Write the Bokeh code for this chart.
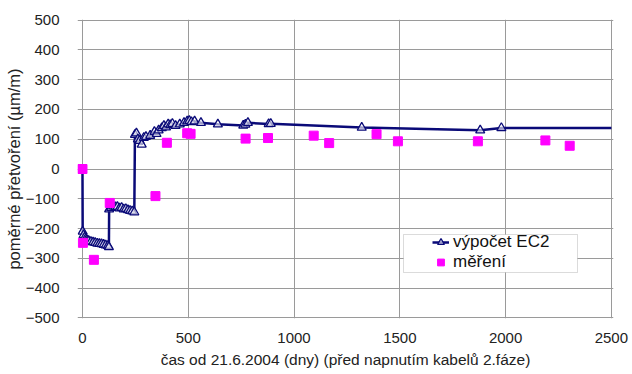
from bokeh.plotting import figure
from bokeh.models import ColumnDataSource, Range1d, FixedTicker, Legend, LegendItem, BoxAnnotation
from bokeh.embed import file_html
from bokeh.resources import INLINE

# Calculated strain (EC2 model), days since 21.6.2004
calc_day = [0, 1, 5, 10, 15, 20, 25, 30, 40, 50, 60, 70, 80, 90, 100, 110, 120, 125,
            126, 135, 145, 155, 165, 175, 185, 195, 205, 215, 225, 235, 245,
            248, 255, 262, 270, 280, 290, 300, 320, 340, 350, 360, 375, 385, 395,
            405, 415, 425, 440, 460, 480, 495, 505, 515, 530, 560, 640,
            760, 770, 782, 880, 890, 1320, 1880, 1980, 2500]
calc_val = [0, -210, -222, -230, -235, -238, -240, -242, -244, -246, -248, -250, -251, -252, -254, -256, -258, -262,
            -135, -130, -125, -128, -127, -132, -130, -135, -134, -138, -140, -142, -145,
            115, 120, 100, 95, 82, 105, 108, 112, 125, 118, 130, 138, 145, 140,
            150, 148, 152, 145, 150, 155, 160, 162, 158, 160, 155, 150,
            146, 149, 155, 151, 152, 139, 130, 138, 138]

# Measured strain
meas_day = [0, 2, 54, 129, 345, 399, 495, 511, 771, 877, 1093, 1166, 1390, 1491, 1869, 2188, 2303]
meas_val = [0, -248, -305, -114, -91, 88, 120, 118, 102, 104, 112, 87, 117, 93, 93, 96, 78]

x_ticks = [0, 500, 1000, 1500, 2000, 2500]
y_ticks = [-500, -400, -300, -200, -100, 0, 100, 200, 300, 400, 500]

FONT = "Liberation Sans"
GRID = "#9a9a9a"
TEXT = "#222222"

# the frame reaches a little beyond the tick range so that markers at day 0
# are not cut; the gridlines poking out left read as the y-axis tick marks
p = figure(width=632, height=374, output_backend="svg", toolbar_location=None,
           x_range=Range1d(-23.5, 2510), y_range=Range1d(-502, 502),
           min_border_left=77, min_border_right=19, min_border_top=19, min_border_bottom=56)

p.outline_line_color = None
p.background_fill_color = "white"
p.border_fill_color = "white"

p.xaxis.ticker = FixedTicker(ticks=x_ticks)
p.yaxis.ticker = FixedTicker(ticks=y_ticks)
p.xgrid.ticker = FixedTicker(ticks=x_ticks)
p.ygrid.ticker = FixedTicker(ticks=y_ticks)
p.xgrid.grid_line_color = GRID
p.ygrid.grid_line_color = GRID

for ax in (p.xaxis, p.yaxis):
    ax.axis_line_color = None
    ax.major_tick_line_color = None
    ax.minor_tick_line_color = None
    ax.major_label_text_font = FONT
    ax.major_label_text_font_size = "15px"
    ax.major_label_text_color = TEXT
    ax.axis_label_text_font = FONT
    ax.axis_label_text_font_style = "normal"
    ax.axis_label_text_color = TEXT

p.xaxis.major_label_standoff = 8
p.xaxis.axis_label = "čas od 21.6.2004 (dny) (před napnutím kabelů 2.fáze)"
p.xaxis.axis_label_text_font_size = "15.5px"
p.xaxis.axis_label_standoff = 5

p.yaxis.major_label_standoff = 12
p.yaxis.axis_label = "poměrné přetvoření (µm/m)"
p.yaxis.axis_label_text_font_size = "16.5px"
p.yaxis.axis_label_standoff = 0

calc_src = ColumnDataSource(dict(x=calc_day, y=calc_val))
mark_src = ColumnDataSource(dict(x=calc_day[1:-1], y=calc_val[1:-1]))
meas_src = ColumnDataSource(dict(x=meas_day, y=meas_val))

NAVY = "#0a0a78"
line = p.line("x", "y", source=calc_src, line_color=NAVY, line_width=2.5)
tri = p.scatter("x", "y", source=mark_src, marker="triangle", size=9,
                fill_color="white", fill_alpha=0.6, line_color=NAVY, line_width=1.3)
sq = p.scatter("x", "y", source=meas_src, marker="square", size=9,
               fill_color="#ff00ff", line_color="#ff00ff")

# legend frame (screen units, relative to the plot frame)
p.add_layout(BoxAnnotation(left=326, right=500, bottom=46, top=84,
                           left_units="screen", right_units="screen",
                           bottom_units="screen", top_units="screen",
                           fill_color="white", fill_alpha=1,
                           line_color="#888888", line_width=1))

legend = Legend(items=[LegendItem(label="výpočet EC2", renderers=[line, tri]),
                       LegendItem(label="měření", renderers=[sq])],
                location=(355, 46), orientation="vertical")
legend.label_text_font = FONT
legend.label_text_font_size = "17px"
legend.label_text_color = "#111111"
legend.border_line_color = None
legend.background_fill_alpha = 0
legend.padding = 1
legend.spacing = 0
legend.margin = 0
legend.glyph_width = 17
legend.glyph_height = 18
legend.label_height = 18
legend.label_standoff = 4
p.add_layout(legend)

open("out.html", "w").write(file_html(p, INLINE))
